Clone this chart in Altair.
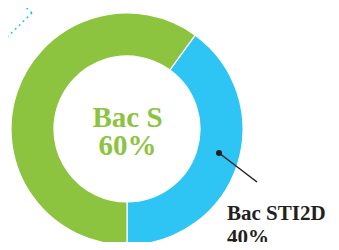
import math
import altair as alt
import pandas as pd

categories = ["Bac STI2D", "Bac S"]
values = [40, 60]
colors = ["#2ec5f4", "#8cc43f"]

df = pd.DataFrame({"cat": categories, "value": values, "idx": [0, 1]})

W, H = 323, 234
CX, CY = 119, 121

start = math.pi / 5
donut = alt.Chart(df).mark_arc(outerRadius=116, innerRadius=73, stroke="white", strokeWidth=1.2).encode(
    theta=alt.Theta("value:Q", stack=True, scale=alt.Scale(range=[start, start + 2 * math.pi])),
    color=alt.Color("cat:N", scale=alt.Scale(domain=categories, range=colors), legend=None),
    order=alt.Order("idx:Q"),
    x=alt.value(CX),
    y=alt.value(CY),
)

base = alt.Chart(pd.DataFrame({"a": [0]}))

center_text = base.mark_text(
    font="Liberation Serif", fontWeight="bold", fontSize=29, color="#8cc43f",
    align="center", baseline="alphabetic", lineHeight=28,
).encode(x=alt.value(CX + 0.5), y=alt.value(119), text=alt.value([f"{categories[1]}", f"{values[1]}%"]))

label_text = base.mark_text(
    font="Liberation Serif", fontWeight="bold", fontSize=21, color="#231f20",
    align="left", baseline="alphabetic", lineHeight=24,
).encode(x=alt.value(219), y=alt.value(212), text=alt.value([f"{categories[0]}", f"{values[0]}%"]))

leader = base.mark_rule(color="#231f20", strokeWidth=1.5).encode(
    x=alt.value(211), y=alt.value(145), x2=alt.value(249), y2=alt.value(174)
)
dot = base.mark_point(filled=True, color="#231f20", size=36, opacity=1).encode(
    x=alt.value(211), y=alt.value(145)
)

deco1 = base.mark_rule(color="#2ec5f4", strokeWidth=1.6, strokeDash=[2, 3.5]).encode(
    x=alt.value(-5), y=alt.value(33), x2=alt.value(24), y2=alt.value(5)
)
deco2 = base.mark_rule(color="#2ec5f4", strokeWidth=1.6, strokeDash=[2, 3.5]).encode(
    x=alt.value(24), y=alt.value(5), x2=alt.value(12), y2=alt.value(-6)
)

chart = alt.layer(deco1, deco2, donut, center_text, leader, dot, label_text).properties(
    width=W, height=H, padding=0, autosize=alt.AutoSizeParams(type="none")
).configure_view(stroke=None)

chart.save("out.html", embed_options={"renderer": "svg", "actions": False})
